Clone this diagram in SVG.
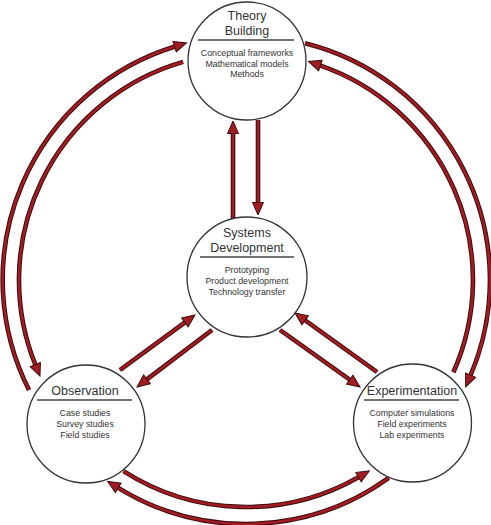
<svg xmlns="http://www.w3.org/2000/svg" width="491" height="525" viewBox="0 0 491 525">
<style>
.node circle{fill:#fff;stroke:#333;stroke-width:1.3}
.sep{stroke:#444;stroke-width:1.3}
.title{font-family:"Liberation Sans",Arial,sans-serif;font-size:12.5px;fill:#333;text-anchor:middle}
.sub{font-family:"Liberation Sans",Arial,sans-serif;font-size:8.8px;fill:#333;text-anchor:middle}
.eo{fill:none;stroke:#3a0c0c;stroke-width:4.6}
.ei{fill:none;stroke:#a31b23;stroke-width:2.6;marker-end:url(#ah)}
</style>
<defs>
<marker id="ah" markerUnits="userSpaceOnUse" viewBox="-2 -8 16 16" markerWidth="16" markerHeight="16" refX="0" refY="0" orient="auto">
<path d="M-0.5,-5.5 L12,0 L-0.5,5.5 Z" fill="#a31b23" stroke="#3a0c0c" stroke-width="1"/>
</marker>
</defs>
<rect width="491" height="525" fill="#fff"/>
<g id="connectors">
<!-- Systems -> Theory -->
<path class="eo" d="M233,219 L233,133"/><path class="ei" d="M233,219 L233,133"/>
<!-- Theory -> Systems -->
<path class="eo" d="M258,120 L258,203"/><path class="ei" d="M258,120 L258,203"/>
<!-- Observation -> Systems -->
<path class="eo" d="M120,370 L185.3,322.1"/><path class="ei" d="M120,370 L185.3,322.1"/>
<!-- Systems -> Observation -->
<path class="eo" d="M212,330 L146.6,379.7"/><path class="ei" d="M212,330 L146.6,379.7"/>
<!-- Systems -> Experimentation -->
<path class="eo" d="M280,330 L350.2,380"/><path class="ei" d="M280,330 L350.2,380"/>
<!-- Experimentation -> Systems -->
<path class="eo" d="M377,372 L304.7,320"/><path class="ei" d="M377,372 L304.7,320"/>
<!-- Observation -> Theory (outer) -->
<path class="eo" d="M29,390 A244,244 0 0 1 175.1,46.5"/><path class="ei" d="M29,390 A244,244 0 0 1 175.1,46.5"/>
<!-- Theory -> Experimentation (outer) -->
<path class="eo" d="M305,43.2 A244,244 0 0 1 470.4,375.7"/><path class="ei" d="M305,43.2 A244,244 0 0 1 470.4,375.7"/>
<!-- Experimentation -> Observation (outer bottom) -->
<path class="eo" d="M388.7,477.9 A244,244 0 0 1 117.8,487.6"/><path class="ei" d="M388.7,477.9 A244,244 0 0 1 117.8,487.6"/>
<!-- Theory -> Observation (inner) -->
<path class="eo" d="M183.1,61.9 A227,227 0 0 0 35.5,365"/><path class="ei" d="M183.1,61.9 A227,227 0 0 0 35.5,365"/>
<!-- Experimentation -> Theory (inner) -->
<path class="eo" d="M453.4,372.2 A227,227 0 0 0 319.9,65.4"/><path class="ei" d="M453.4,372.2 A227,227 0 0 0 319.9,65.4"/>
<!-- Observation -> Experimentation (inner bottom) -->
<path class="eo" d="M123.5,471.1 A227,227 0 0 0 358.9,476.9"/><path class="ei" d="M123.5,471.1 A227,227 0 0 0 358.9,476.9"/>
</g>
<g id="theory" class="node">
<circle cx="247" cy="61" r="59"/>
<text class="title" x="247" y="19.5">Theory</text>
<text class="title" x="247" y="34.5">Building</text>
<line class="sep" x1="198" y1="40" x2="294" y2="40"/>
<text class="sub" x="247" y="56">Conceptual frameworks</text>
<text class="sub" x="247" y="66.5">Mathematical models</text>
<text class="sub" x="247" y="77">Methods</text>
</g>
<g id="systems" class="node">
<circle cx="247" cy="277" r="60"/>
<text class="title" x="247" y="236.5">Systems</text>
<text class="title" x="247" y="251.5">Development</text>
<line class="sep" x1="200" y1="257" x2="294" y2="257"/>
<text class="sub" x="247" y="273">Prototyping</text>
<text class="sub" x="247" y="284">Product development</text>
<text class="sub" x="247" y="295">Technology transfer</text>
</g>
<g id="observation" class="node">
<circle cx="86" cy="424" r="59"/>
<text class="title" x="85" y="394.5">Observation</text>
<line class="sep" x1="37" y1="400" x2="132" y2="400"/>
<text class="sub" x="85" y="416">Case studies</text>
<text class="sub" x="85" y="427">Survey studies</text>
<text class="sub" x="85" y="438">Field studies</text>
</g>
<g id="experimentation" class="node">
<circle cx="412.5" cy="423" r="59"/>
<text class="title" x="412" y="394.5">Experimentation</text>
<line class="sep" x1="364" y1="400" x2="459" y2="400"/>
<text class="sub" x="412" y="416">Computer simulations</text>
<text class="sub" x="412" y="427">Field experiments</text>
<text class="sub" x="412" y="438">Lab experiments</text>
</g>
</svg>
